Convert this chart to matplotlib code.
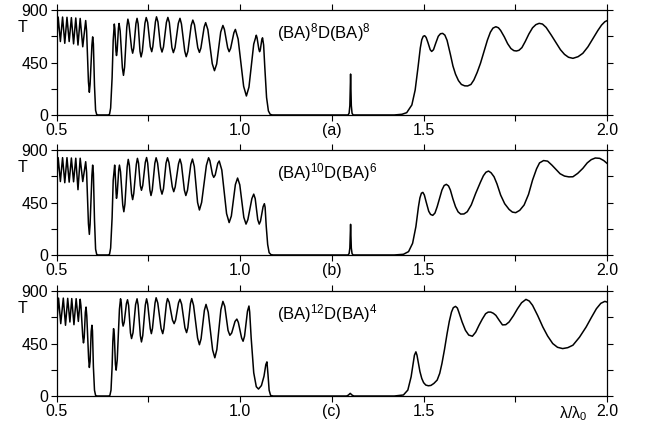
import numpy as np
import matplotlib
matplotlib.use("Agg")
import matplotlib.pyplot as plt
from matplotlib.ticker import FixedLocator

plt.rcParams['font.family'] = ['Liberation Sans', 'DejaVu Sans']
plt.rcParams['mathtext.fontset'] = 'custom'
plt.rcParams['mathtext.rm'] = 'Liberation Sans'
plt.rcParams['mathtext.it'] = 'Liberation Sans:italic'

# panel (a): (BA)^8 D (BA)^8
xa = [0.500, 0.504, 0.510, 0.516, 0.522, 0.528, 0.534, 0.540, 0.546, 0.552, 0.558, 0.564,
      0.571, 0.579, 0.5815, 0.5865, 0.589, 0.591, 0.596, 0.598, 0.600, 0.603, 0.606, 0.609,
      0.613, 0.640, 0.644, 0.647, 0.651, 0.654, 0.657, 0.6585, 0.6615, 0.663, 0.66475, 0.66825,
      0.670, 0.673, 0.679, 0.682, 0.685, 0.691, 0.694, 0.697, 0.704, 0.707, 0.710, 0.716,
      0.719, 0.722, 0.727, 0.730, 0.7335, 0.7405, 0.744, 0.748, 0.755, 0.759, 0.762, 0.769,
      0.772, 0.776, 0.783, 0.787, 0.791, 0.799, 0.803, 0.807, 0.814, 0.818, 0.8225, 0.8315,
      0.836, 0.840, 0.849, 0.853, 0.8575, 0.8665, 0.871, 0.8755, 0.8845, 0.889, 0.893, 0.902,
      0.906, 0.912, 0.924, 0.930, 0.936, 0.947, 0.953, 0.957, 0.966, 0.970, 0.974, 0.983,
      0.987, 0.9945, 1.0095, 1.017, 1.024, 1.037, 1.044, 1.046, 1.051, 1.053, 1.055, 1.059,
      1.061, 1.064, 1.067, 1.072, 1.077, 1.082, 1.088, 1.294, 1.297, 1.299, 1.301, 1.303,
      1.305, 1.308, 1.420, 1.441, 1.454, 1.468, 1.477, 1.485, 1.491, 1.495, 1.499, 1.503,
      1.507, 1.512, 1.518, 1.522, 1.527, 1.533, 1.540, 1.546, 1.552, 1.558, 1.564, 1.573,
      1.580, 1.587, 1.595, 1.603, 1.612, 1.620, 1.629, 1.637, 1.646, 1.655, 1.665, 1.674,
      1.682, 1.689, 1.697, 1.704, 1.710, 1.720, 1.729, 1.738, 1.746, 1.753, 1.760, 1.768,
      1.777, 1.787, 1.797, 1.806, 1.815, 1.824, 1.834, 1.848, 1.861, 1.873, 1.884, 1.895,
      1.907, 1.921, 1.934, 1.948, 1.962, 1.975, 1.985, 1.994, 2.000]
ya = [625, 840, 630, 840, 615, 838, 630, 835, 610, 832, 600, 828,
      585, 810, 720, 285, 195, 264, 600, 670, 610, 250, 40, 4,
      0, 0, 6, 60, 320, 640, 780, 741, 549, 510, 550, 745,
      785, 720, 405, 340, 410, 752, 822, 779, 573, 530, 574, 785,
      829, 781, 546, 498, 547, 787, 836, 793, 586, 543, 587, 798,
      842, 798, 584, 540, 583, 794, 837, 793, 579, 535, 578, 786,
      829, 781, 548, 500, 546, 768, 814, 774, 577, 537, 574, 755,
      792, 732, 440, 380, 437, 711, 768, 735, 576, 543, 571, 706,
      734, 651, 246, 163, 239, 608, 684, 663, 564, 543, 560, 645,
      662, 600, 420, 150, 35, 5, 0, 0, 15, 80, 351, 80,
      15, 0, 0, 6, 20, 86, 214, 414, 575, 645, 675, 680,
      665, 620, 560, 545, 560, 615, 675, 697, 700, 685, 640, 520,
      420, 350, 295, 262, 250, 249, 262, 300, 365, 443, 550, 643,
      710, 745, 757, 748, 725, 670, 612, 570, 552, 549, 555, 578,
      630, 695, 748, 775, 786, 780, 751, 685, 620, 560, 520, 495,
      486, 500, 529, 585, 657, 725, 771, 800, 809]

# panel (b): (BA)^10 D (BA)^6
xb = [0.500, 0.504, 0.510, 0.516, 0.522, 0.528, 0.534, 0.540, 0.546, 0.552, 0.558, 0.564,
      0.571, 0.579, 0.5815, 0.5865, 0.589, 0.591, 0.596, 0.598, 0.600, 0.603, 0.606, 0.609,
      0.613, 0.640, 0.644, 0.647, 0.651, 0.654, 0.658, 0.659, 0.662, 0.663, 0.665, 0.669,
      0.671, 0.674, 0.680, 0.683, 0.686, 0.692, 0.695, 0.698, 0.704, 0.707, 0.710, 0.717,
      0.720, 0.723, 0.728, 0.731, 0.7345, 0.7415, 0.745, 0.748, 0.754, 0.757, 0.7605, 0.7675,
      0.771, 0.775, 0.783, 0.787, 0.791, 0.798, 0.802, 0.806, 0.815, 0.819, 0.823, 0.832,
      0.836, 0.840, 0.848, 0.852, 0.8565, 0.8655, 0.870, 0.875, 0.884, 0.889, 0.895, 0.908,
      0.914, 0.9175, 0.9245, 0.928, 0.932, 0.939, 0.943, 0.950, 0.963, 0.970, 0.976, 0.987,
      0.993, 0.999, 1.010, 1.016, 1.021, 1.032, 1.037, 1.041, 1.048, 1.052, 1.0555, 1.0625,
      1.066, 1.068, 1.071, 1.075, 1.079, 1.084, 1.090, 1.294, 1.297, 1.299, 1.301, 1.303,
      1.305, 1.308, 1.420, 1.445, 1.459, 1.470, 1.479, 1.486, 1.490, 1.494, 1.498, 1.502,
      1.507, 1.514, 1.519, 1.525, 1.531, 1.537, 1.544, 1.550, 1.556, 1.562, 1.568, 1.573,
      1.580, 1.587, 1.594, 1.601, 1.610, 1.619, 1.630, 1.642, 1.655, 1.663, 1.670, 1.677,
      1.684, 1.692, 1.700, 1.710, 1.721, 1.733, 1.742, 1.751, 1.762, 1.774, 1.786, 1.797,
      1.808, 1.816, 1.827, 1.838, 1.850, 1.861, 1.872, 1.884, 1.896, 1.907, 1.920, 1.934,
      1.946, 1.957, 1.968, 1.980, 1.991, 2.000]
yb = [630, 835, 630, 835, 620, 835, 625, 832, 628, 830, 560, 830,
      630, 800, 709, 268, 177, 264, 684, 771, 700, 300, 50, 5,
      0, 0, 6, 60, 320, 640, 771, 729, 528, 486, 528, 729,
      771, 713, 429, 371, 437, 754, 820, 770, 525, 475, 527, 777,
      829, 789, 595, 555, 596, 795, 836, 788, 558, 510, 557, 787,
      834, 788, 568, 522, 568, 788, 834, 792, 585, 543, 584, 782,
      823, 777, 556, 510, 556, 777, 823, 759, 450, 386, 451, 769,
      834, 809, 691, 666, 686, 786, 806, 729, 355, 278, 334, 604,
      660, 602, 323, 265, 303, 484, 522, 484, 303, 265, 291, 414,
      440, 410, 250, 90, 20, 3, 0, 0, 12, 60, 263, 60,
      12, 0, 0, 6, 29, 100, 243, 414, 490, 530, 537, 515,
      455, 375, 348, 340, 360, 414, 490, 557, 596, 606, 592, 557,
      480, 414, 370, 351, 352, 371, 430, 529, 625, 680, 710, 720,
      705, 671, 610, 514, 440, 391, 368, 363, 383, 429, 520, 643,
      740, 790, 810, 805, 770, 734, 697, 677, 670, 671, 700, 743,
      790, 818, 832, 829, 810, 786]

# panel (c): (BA)^12 D (BA)^4
xc = [0.500, 0.505, 0.511, 0.518, 0.524, 0.530, 0.536, 0.541, 0.547, 0.553, 0.559, 0.564,
      0.566, 0.571, 0.573, 0.575, 0.578, 0.580, 0.582, 0.587, 0.589, 0.591, 0.594, 0.596,
      0.5975, 0.600, 0.603, 0.606, 0.610, 0.642, 0.645, 0.648, 0.651, 0.653, 0.655, 0.657,
      0.660, 0.662, 0.665, 0.671, 0.674, 0.676, 0.679, 0.681, 0.684, 0.690, 0.693, 0.696,
      0.701, 0.704, 0.708, 0.715, 0.719, 0.722, 0.728, 0.731, 0.7345, 0.7415, 0.745, 0.748,
      0.755, 0.758, 0.761, 0.768, 0.771, 0.7755, 0.7845, 0.789, 0.792, 0.799, 0.802, 0.8065,
      0.8155, 0.820, 0.824, 0.832, 0.836, 0.8405, 0.8495, 0.854, 0.8575, 0.8645, 0.868, 0.873,
      0.884, 0.889, 0.8935, 0.9025, 0.907, 0.913, 0.925, 0.931, 0.9365, 0.9475, 0.953, 0.958,
      0.967, 0.972, 0.977, 0.986, 0.991, 0.995, 1.004, 1.008, 1.012, 1.020, 1.024, 1.026,
      1.030, 1.037, 1.044, 1.050, 1.058, 1.065, 1.070, 1.073, 1.076, 1.079, 1.083, 1.090,
      1.290, 1.295, 1.300, 1.305, 1.310, 1.420, 1.445, 1.457, 1.466, 1.471, 1.475, 1.479,
      1.482, 1.486, 1.490, 1.495, 1.500, 1.506, 1.513, 1.520, 1.528, 1.537, 1.544, 1.550,
      1.557, 1.564, 1.570, 1.576, 1.581, 1.587, 1.592, 1.596, 1.605, 1.614, 1.623, 1.633,
      1.642, 1.651, 1.660, 1.669, 1.676, 1.683, 1.690, 1.697, 1.706, 1.715, 1.724, 1.733,
      1.745, 1.756, 1.767, 1.779, 1.788, 1.797, 1.811, 1.825, 1.838, 1.852, 1.865, 1.879,
      1.893, 1.907, 1.925, 1.943, 1.957, 1.971, 1.983, 1.994, 2.000]
yc = [620, 840, 621, 840, 607, 838, 635, 836, 612, 835, 640, 830,
      775, 511, 456, 501, 718, 763, 687, 321, 245, 298, 554, 607,
      560, 250, 50, 5, 0, 0, 6, 50, 250, 470, 578, 526,
      274, 222, 311, 745, 834, 800, 634, 600, 633, 793, 826, 777,
      542, 493, 543, 784, 834, 780, 518, 464, 518, 780, 834, 790,
      579, 535, 580, 798, 843, 798, 580, 535, 579, 792, 836, 805,
      652, 621, 652, 799, 830, 788, 586, 544, 587, 793, 836, 778,
      498, 440, 491, 735, 786, 719, 395, 328, 399, 741, 812, 770,
      563, 521, 541, 640, 660, 632, 498, 470, 514, 728, 772, 720,
      500, 200, 80, 60, 90, 170, 270, 293, 180, 50, 5, 0,
      0, 8, 23, 8, 0, 0, 9, 51, 165, 270, 350, 379,
      350, 279, 210, 151, 115, 94, 88, 91, 108, 137, 195, 279,
      400, 535, 640, 720, 758, 769, 755, 720, 635, 564, 523, 513,
      548, 607, 660, 706, 720, 720, 710, 692, 650, 610, 612, 635,
      690, 749, 800, 829, 815, 778, 690, 592, 515, 450, 418, 407,
      415, 436, 505, 592, 672, 749, 795, 812, 806]

structures = [(8, 8), (10, 6), (12, 4)]
panel_tags = ['(a)', '(b)', '(c)']
series = [(xa, ya), (xb, yb), (xc, yc)]

fig = plt.figure(figsize=(6.54, 4.30), dpi=100)
left, width, height = 0.0867, 0.8415, 0.244
bottoms = [0.7326, 0.407, 0.079]

for (x, y), (n1, n2), tag, b in zip(series, structures, panel_tags, bottoms):
    ax = fig.add_axes([left, b, width, height])
    ax.plot(x, y, color='black', lw=1.1, solid_joinstyle='round')
    ax.set_xlim(0.5, 2.0)
    ax.set_ylim(0, 900)
    ax.set_xticks([0.5, 0.75, 1.0, 1.25, 1.5, 1.75, 2.0])
    ax.set_xticklabels(['0.5', '', '1.0', tag, '1.5', '', '2.0'])
    ax.set_yticks([0, 450, 900])
    ax.yaxis.set_minor_locator(FixedLocator([225, 675]))
    ax.tick_params(which='both', direction='out', length=4, width=0.8,
                   labelsize=11.5, top=True, right=True, pad=2)
    for s in ax.spines.values():
        s.set_linewidth(0.9)
    ax.text(-0.063, 0.83, 'T', transform=ax.transAxes, fontsize=11.5,
            ha='center', va='center')
    ax.text(1.100, 710, r'(BA)$^{\mathrm{%d}}$D(BA)$^{\mathrm{%d}}$' % (n1, n2),
            fontsize=12, ha='left', va='center')
    if tag == '(c)':
        ax.text(1.907, -0.075, 'λ/λ' + r'$_{\mathrm{0}}$',
                transform=ax.get_xaxis_transform(), fontsize=11.5,
                ha='center', va='top')

fig.savefig('out.png', dpi=100)
